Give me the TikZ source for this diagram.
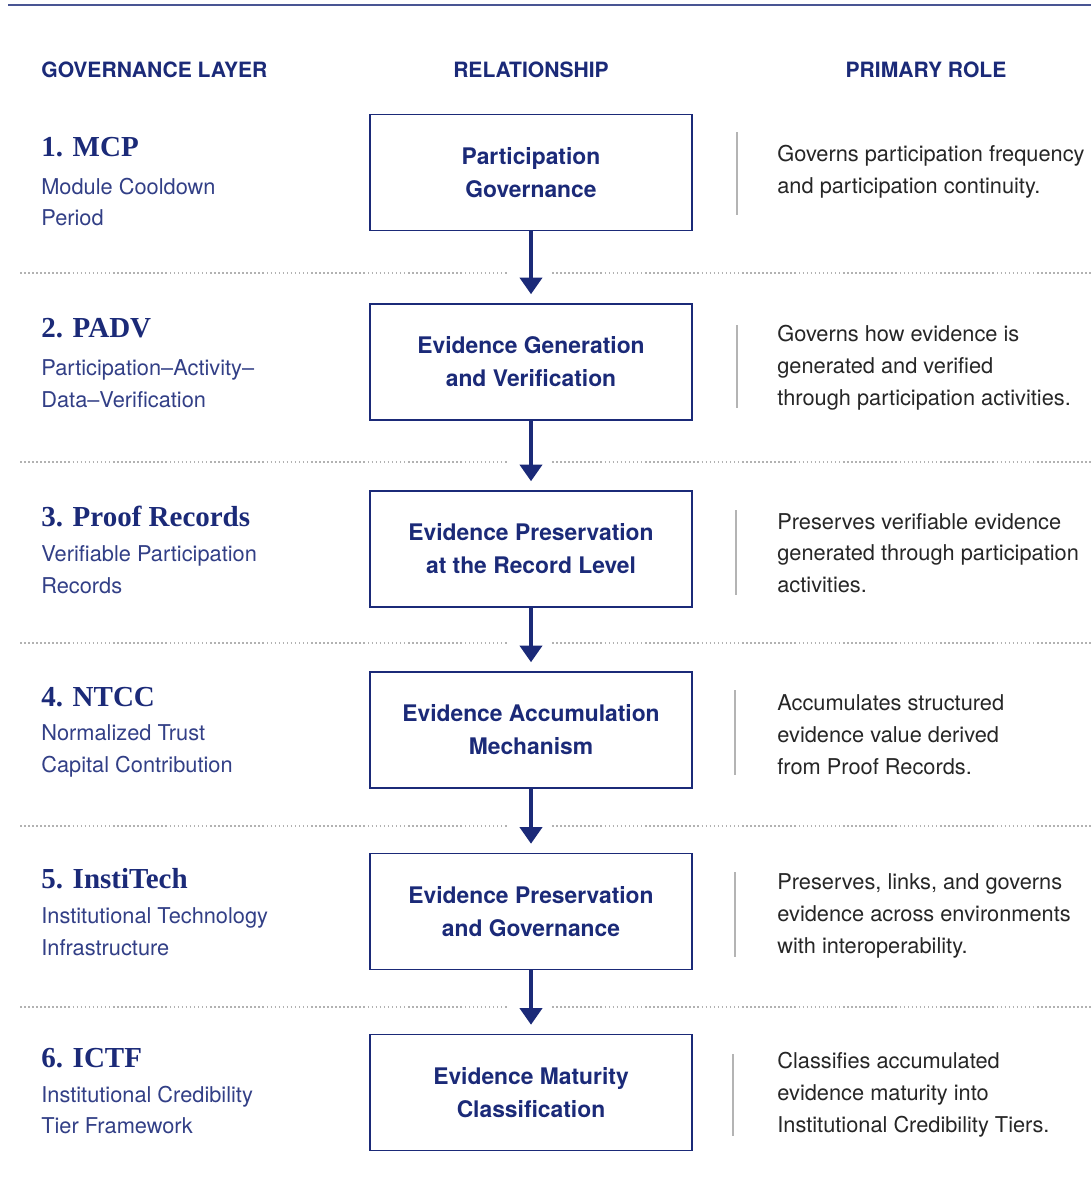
\documentclass[tikz,border=0pt]{standalone}
\usepackage{fontspec}
\setmainfont{TeX Gyre Heros}
\newfontfamily\titlefont{Liberation Serif}
\usetikzlibrary{arrows.meta}
\definecolor{navy}{HTML}{1B2A78}
\definecolor{ink}{HTML}{262626}
\definecolor{rule}{HTML}{B4B4B4}

\begin{document}
\begin{tikzpicture}[
    x=0.02cm, y=-0.02cm,
    >={Triangle[width=12.5pt,length=9.5pt]},
    colhead/.style={inner sep=0pt, font=\bfseries\fontsize{12}{14}\selectfont, text=navy},
    layer/.style={anchor=west, inner sep=0pt, text=navy,
        font=\titlefont\bfseries\fontsize{16.5}{20}\selectfont},
    layersub/.style={anchor=west, align=left, inner sep=0pt, text=navy!90,
        font=\fontsize{12.4}{18.1}\selectfont},
    relbox/.style={draw=navy, line width=1.1pt, minimum width=6.44cm,
        minimum height=2.32cm, align=center, text=navy,
        font=\bfseries\fontsize{13}{18.7}\selectfont},
    role/.style={anchor=west, align=left, inner sep=0pt, text=ink,
        font=\fontsize{12.4}{18.1}\selectfont},
    flow/.style={->, navy, line width=2.8pt, shorten >=5pt},
    sep/.style={gray!60, line width=0.9pt, dash pattern=on 0.9pt off 1.4pt},
    bar/.style={rule, line width=0.9pt},
]
\useasboundingbox (0,0) rectangle (1091,1187);

% top rule
\draw[navy!80, line width=0.9pt] (8,5) -- (1091,5);

% column heads
\node[colhead, anchor=west] (hdlayer) at (41,70) {GOVERNANCE LAYER};
\node[colhead] (hdrel) at (531,70) {RELATIONSHIP};
\node[colhead] (hdrole) at (926,70) {PRIMARY ROLE};

% governance layers
\node[layer] (t1) at (41,147) {1. MCP};
\node[layersub] (s1) at (41,202) {Module Cooldown\\Period};
\node[layer] (t2) at (41,328) {2. PADV};
\node[layersub] (s2) at (41,383.5) {Participation–Activity–\\Data–Verification};
\node[layer] (t3) at (41,516) {3. Proof Records};
\node[layersub] (s3) at (41,569.5) {Verifiable Participation\\Records};
\node[layer] (t4) at (41,697) {4. NTCC};
\node[layersub] (s4) at (41,751) {Normalized Trust\\Capital Contribution};
\node[layer] (t5) at (41,879) {5. InstiTech};
\node[layersub] (s5) at (41,932) {Institutional Technology\\Infrastructure};
\node[layer] (t6) at (41,1058) {6. ICTF};
\node[layersub] (s6) at (41,1110) {Institutional Credibility\\Tier Framework};

% relationship boxes
\node[relbox] (b1) at (531,172.5) {Participation\\Governance};
\node[relbox] (b2) at (531,362) {Evidence Generation\\and Verification};
\node[relbox] (b3) at (531,549) {Evidence Preservation\\at the Record Level};
\node[relbox] (b4) at (531,730) {Evidence Accumulation\\Mechanism};
\node[relbox] (b5) at (531,911.5) {Evidence Preservation\\and Governance};
\node[relbox] (b6) at (531,1092.5) {Evidence Maturity\\Classification};

% row separators
\foreach \y in {273,462,643,826,1007} {
    \draw[sep] (20,\y) -- (508,\y);
    \draw[sep] (552,\y) -- (1091,\y);
}

% flow
\draw[flow] (b1) -- (b2);
\draw[flow] (b2) -- (b3);
\draw[flow] (b3) -- (b4);
\draw[flow] (b4) -- (b5);
\draw[flow] (b5) -- (b6);

% primary roles
\draw[bar] (737,132) -- (737,215);
\node[role] (r1) at (777,172) {Governs participation frequency\\and participation continuity.};
\draw[bar] (737,325) -- (737,408);
\node[role] (r2) at (777,367.5) {Governs how evidence is\\generated and verified\\through participation activities.};
\draw[bar] (736,510) -- (736,595);
\node[role] (r3) at (777,553) {Preserves verifiable evidence\\generated through participation\\activities.};
\draw[bar] (735,690) -- (735,775);
\node[role] (r4) at (777,734.5) {Accumulates structured\\evidence value derived\\from Proof Records.};
\draw[bar] (735,872) -- (735,957);
\node[role] (r5) at (777,916) {Preserves, links, and governs\\evidence across environments\\with interoperability.};
\draw[bar] (733,1054) -- (733,1136);
\node[role] (r6) at (777,1095) {Classifies accumulated\\evidence maturity into\\Institutional Credibility Tiers.};
\end{tikzpicture}
\end{document}
